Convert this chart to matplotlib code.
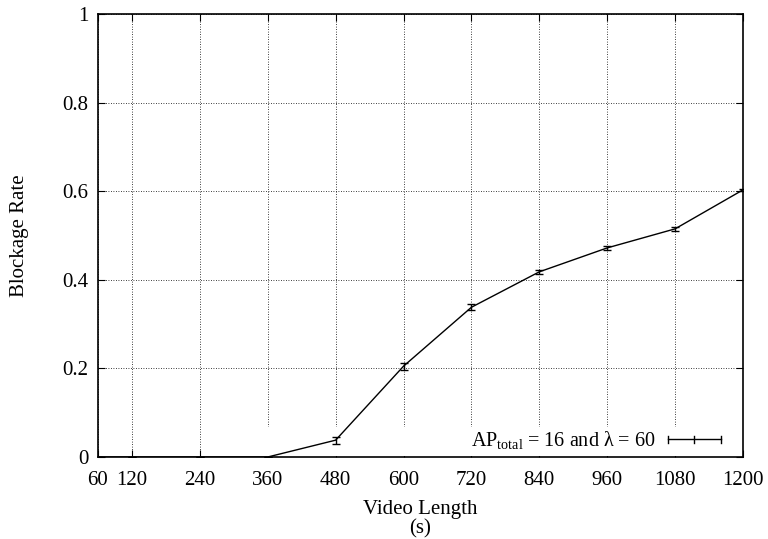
import numpy as np
import matplotlib.pyplot as plt
from matplotlib.legend_handler import HandlerBase
from matplotlib.lines import Line2D
from matplotlib.patches import Rectangle

plt.rcParams['font.family'] = ['Liberation Serif', 'DejaVu Serif']
plt.rcParams['mathtext.fontset'] = 'custom'
plt.rcParams['mathtext.rm'] = 'Liberation Serif'
plt.rcParams['mathtext.it'] = 'Liberation Serif'

# dados
video_len = [60, 120, 240, 360, 480, 600, 720, 840, 960, 1080, 1200]
blockage = [0, 0, 0, 0, 0.038, 0.205, 0.338, 0.418, 0.472, 0.515, 0.603]
erro = [0, 0, 0, 0, 0.008, 0.008, 0.007, 0.005, 0.005, 0.004, 0.003]
xticks = [60, 120, 240, 360, 480, 600, 720, 840, 960, 1080, 1200]
yticks = [0, 0.2, 0.4, 0.6, 0.8, 1]
label = r'AP$_{\mathrm{total}}$ = 16 and λ = 60'


# amostra da legenda no estilo do gnuplot (linha horizontal com barras)
class HandlerErrLine(HandlerBase):
    def create_artists(self, legend, orig, xd, yd, w, h, fontsize, trans):
        y = yd + h / 2
        c = 2.6
        arts = [Line2D([xd, xd + w], [y, y]),
                Line2D([xd, xd], [y - c, y + c]),
                Line2D([xd + w, xd + w], [y - c, y + c]),
                Line2D([xd + w / 2, xd + w / 2], [y - c, y + c])]
        for a in arts:
            a.set_color('black')
            a.set_linewidth(1)
            a.set_transform(trans)
        return arts


fig = plt.figure(figsize=(7.68, 5.39), dpi=100)
ax = fig.add_axes([98 / 768, 82 / 539, 645 / 768, 443 / 539])

ax.errorbar(video_len, blockage, yerr=erro, color='black', lw=1,
            capsize=3, elinewidth=1, capthick=1, zorder=3)

ax.set_xlim(60, 1200)
ax.set_ylim(0, 1)
ax.set_xticks(xticks)
ax.set_yticks(yticks)
ax.set_yticklabels(['0', '0.2', '0.4', '0.6', '0.8', '1'])
ax.tick_params(direction='in', top=True, right=True, length=5, labelsize=15)
ax.tick_params(axis='x', pad=10)
ax.tick_params(axis='y', pad=7)
ax.grid(True, linestyle=(0, (1, 2)), color='black', lw=0.6)
for s in ax.spines.values():
    s.set_linewidth(1.2)

# area da legenda limpa do grid
ax.add_patch(Rectangle((0.2, 0.003), 0.79, 0.065, transform=ax.transAxes,
                       facecolor='white', edgecolor='none', zorder=2))

ax.set_xlabel('Video Length\n(s)', fontsize=15, linespacing=1.05, labelpad=7)
ax.set_ylabel('Blockage Rate', fontsize=15, labelpad=24)

h = Line2D([], [], color='black')
ax.legend([h], [label], handler_map={Line2D: HandlerErrLine()},
          loc='center right', frameon=False, fontsize=14.5, markerfirst=False,
          handlelength=2.65, handletextpad=0.62, borderaxespad=0,
          borderpad=0, bbox_to_anchor=(1 - 22 / 645, 0.038))

fig.savefig('out.png', dpi=100)
